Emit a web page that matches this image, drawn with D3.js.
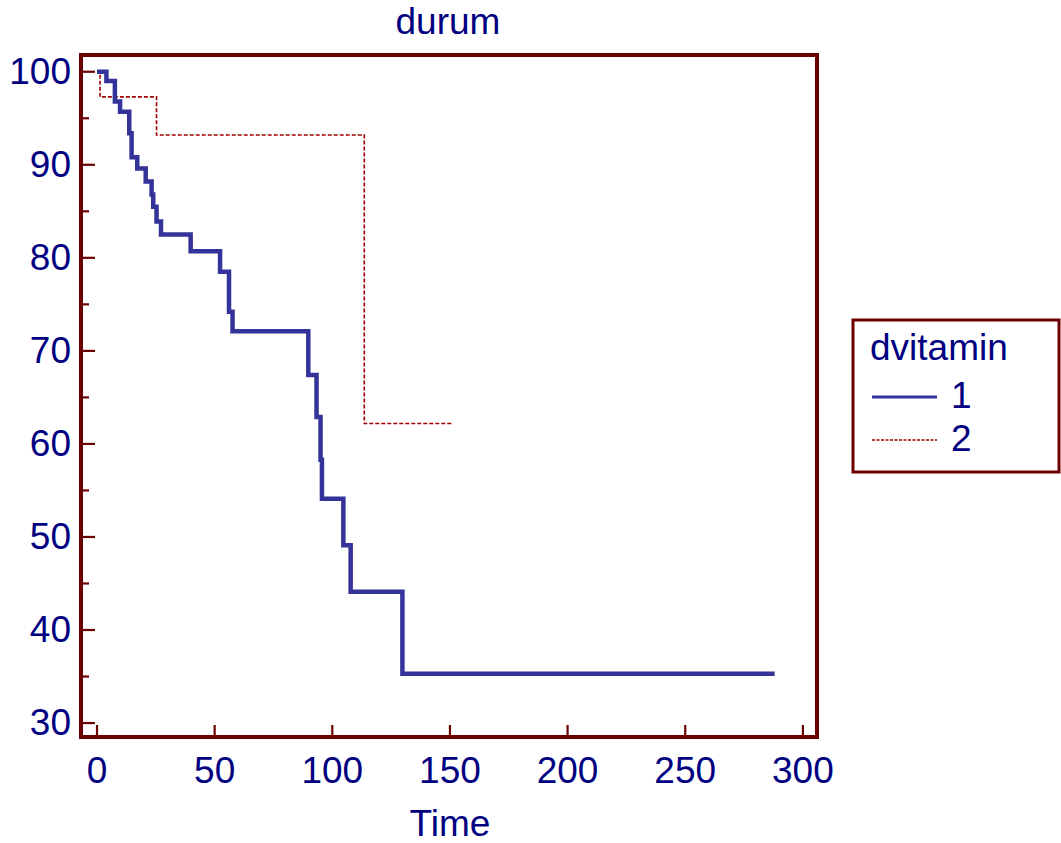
<!DOCTYPE html>
<html><head><meta charset="utf-8">
<script src="https://cdn.jsdelivr.net/npm/d3@7"></script>
<style>html,body{margin:0;padding:0;background:#fff;}svg{display:block;}</style>
</head><body>
<svg id="chart" width="1061" height="843"></svg>
<script>
// ---- data ----
const seriesNames = ["1", "2"];
const time1 = [0, 4, 7.6, 9.8, 13.7, 14.7, 17.1, 20.7, 23.2, 23.9, 25.3, 27.2, 39.8, 52.3, 56.1, 57.6, 89.8, 93.3, 95.0, 95.6, 104.7, 107.8, 129.8, 288];
const surv1 = [100, 99.0, 96.8, 95.7, 93.4, 90.8, 89.6, 88.2, 86.8, 85.5, 83.9, 82.5, 80.7, 78.5, 74.2, 72.1, 67.4, 62.9, 58.3, 54.1, 49.1, 44.1, 35.3, 35.3];
const time2 = [0, 1.3, 25.3, 113.6, 151];
const surv2 = [100, 97.3, 93.2, 62.2, 62.2];
const xTicks = [0, 50, 100, 150, 200, 250, 300];
const yMajorTicks = [30, 40, 50, 60, 70, 80, 90, 100];
const yMinorTicks = [35, 45, 55, 65, 75, 85, 95];
const titleText = "durum";
const xLabel = "Time";
const legendTitle = "dvitamin";

// ---- layout ----
const frameCol = "#6b0000";
const textCol = "#000080";
const col1 = "#333399";
const col2 = "#a00000";
const font = "'Liberation Sans', Arial, sans-serif";
const fs = "37px";
const L = 81, R = 817, T = 55, B = 737;

const svg = d3.select("#chart");
const x = d3.scaleLinear().domain([-6.8, 306]).range([L, R]);
const y = d3.scaleLinear().domain([28.5, 101.8]).range([B, T]);

// frame
svg.append("rect").attr("x", L).attr("y", T).attr("width", R - L).attr("height", B - T)
  .attr("fill", "none").attr("stroke", frameCol).attr("stroke-width", 4);

// y ticks
svg.selectAll(".ymaj").data(yMajorTicks).enter().append("line")
  .attr("x1", L).attr("x2", L + 14).attr("y1", d => y(d)).attr("y2", d => y(d))
  .attr("stroke", frameCol).attr("stroke-width", 2.2);
svg.selectAll(".ymin").data(yMinorTicks).enter().append("line")
  .attr("x1", L).attr("x2", L + 8).attr("y1", d => y(d)).attr("y2", d => y(d))
  .attr("stroke", frameCol).attr("stroke-width", 2.2);
svg.selectAll(".ylab").data(yMajorTicks).enter().append("text")
  .attr("x", 71).attr("y", d => y(d)).attr("dy", "0.33em")
  .attr("text-anchor", "end").attr("fill", textCol)
  .style("font-family", font).style("font-size", fs).text(d => d);

// x ticks
svg.selectAll(".xt").data(xTicks).enter().append("line")
  .attr("x1", d => x(d)).attr("x2", d => x(d)).attr("y1", B).attr("y2", B - 12)
  .attr("stroke", frameCol).attr("stroke-width", 2.2);
svg.selectAll(".xlab").data(xTicks).enter().append("text")
  .attr("x", d => x(d)).attr("y", 783)
  .attr("text-anchor", "middle").attr("fill", textCol)
  .style("font-family", font).style("font-size", fs).text(d => d);

// title & axis label
svg.append("text").attr("x", 448).attr("y", 34).attr("text-anchor", "middle")
  .attr("fill", textCol).style("font-family", font).style("font-size", fs).text(titleText);
svg.append("text").attr("x", 450).attr("y", 836).attr("text-anchor", "middle")
  .attr("fill", textCol).style("font-family", font).style("font-size", fs).text(xLabel);

// curves
const line = d3.line().x(d => x(d[0])).y(d => y(d[1])).curve(d3.curveStepAfter);
const d2 = time2.map((t, i) => [t, surv2[i]]);
const d1 = time1.map((t, i) => [t, surv1[i]]);
svg.append("path").attr("d", line(d2)).attr("fill", "none")
  .attr("stroke", col2).attr("stroke-width", 1.6).attr("stroke-dasharray", "4,2");
svg.append("path").attr("d", line(d1)).attr("fill", "none")
  .attr("stroke", col1).attr("stroke-width", 4.5).attr("stroke-linejoin", "miter");

// legend
const lg = svg.append("g");
lg.append("rect").attr("x", 853).attr("y", 320).attr("width", 206).attr("height", 152)
  .attr("fill", "#fff").attr("stroke", frameCol).attr("stroke-width", 3);
lg.append("text").attr("x", 870).attr("y", 360).attr("fill", textCol)
  .style("font-family", font).style("font-size", fs).text(legendTitle);
const legCols = [col1, col2];
const legW = [3, 1.5];
const legDash = [null, "3,1.5"];
seriesNames.forEach((s, i) => {
  const yy = 397 + i * 43;
  lg.append("line").attr("x1", 872).attr("x2", 937).attr("y1", yy).attr("y2", yy)
    .attr("stroke", legCols[i]).attr("stroke-width", legW[i]).attr("stroke-dasharray", legDash[i]);
  lg.append("text").attr("x", 951).attr("y", yy + 11).attr("fill", textCol)
    .style("font-family", font).style("font-size", fs).text(s);
});
</script>
</body></html>
